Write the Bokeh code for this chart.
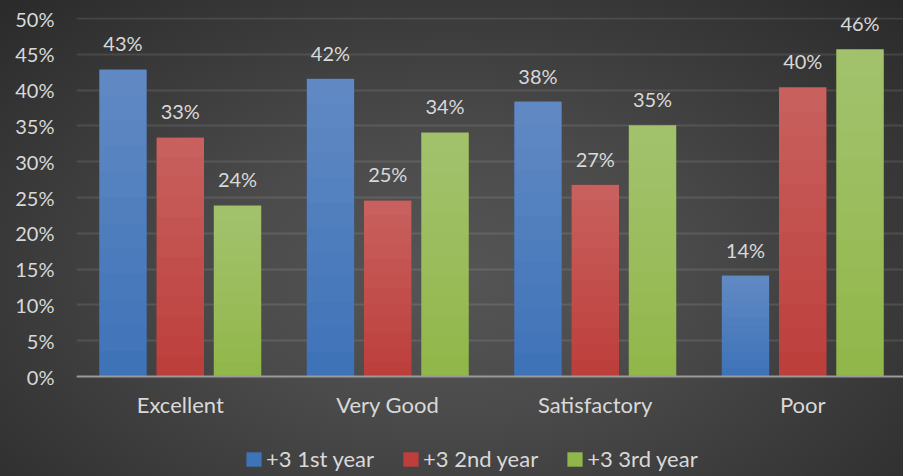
from bokeh.plotting import figure
from bokeh.models import ColumnDataSource, FixedTicker, Legend, LegendItem, Range1d
from bokeh.core.properties import value
from bokeh.embed import file_html
from bokeh.resources import INLINE

categories = ["Excellent", "Very Good", "Satisfactory", "Poor"]
series_names = ["+3 1st year", "+3 2nd year", "+3 3rd year"]
first_year = [42.9, 41.6, 38.4, 14.1]
second_year = [33.4, 24.6, 26.8, 40.4]
third_year = [23.9, 34.1, 35.1, 45.7]
y_ticks = [0, 5, 10, 15, 20, 25, 30, 35, 40, 45, 50]

series_values = [first_year, second_year, third_year]
colors = ["#3f73b8", "#bd3f3c", "#91b74b"]
offsets = [-0.276, 0.0, 0.276]
bar_w = 0.229
FONT = "Lato"
TXT = "#d9d9d9"

# frame spans from 17px to the bottom (476px); y=0 sits 100px above the bottom
px_per_unit = 359 / 50.15
p = figure(width=903, height=476, output_backend="svg", toolbar_location=None,
           x_range=Range1d(0, 827 / 207.5), y_range=Range1d(-100 / px_per_unit, 50.15),
           min_border_left=76, min_border_top=17, min_border_bottom=0, min_border_right=0)
p.background_fill_color = None
p.border_fill_color = None
p.outline_line_color = None
p.styles = {"background": "radial-gradient(ellipse farthest-corner at 50% 58%, #555555 0%, #4b4b4b 35%, #2a2a2a 100%)"}

centers = [i + 0.5 for i in range(len(categories))]

renderers = []
for vals, col, off in zip(series_values, colors, offsets):
    xs = [c + off for c in centers]
    src = ColumnDataSource(dict(x=xs, top=vals, lab=[f"{round(v)}%" for v in vals]))
    r = p.vbar(x="x", top="top", bottom=0, width=bar_w, source=src, fill_color=col, line_color=None)
    renderers.append(r)
    # gradient highlight toward top of each bar
    n = 12
    for j in range(1, n):
        bottoms = [v * j / n for v in vals]
        p.vbar(x=xs, bottom=bottoms, top=vals, width=bar_w, fill_color="white",
               fill_alpha=0.02, line_color=None)
    p.text(x="x", y="top", text="lab", source=src, text_align="center",
           text_baseline="alphabetic", y_offset=-26, text_color=TXT,
           text_font=value(FONT), text_font_size="20px")

# axes
p.yaxis.ticker = FixedTicker(ticks=y_ticks)
p.yaxis.major_label_overrides = {t: f"{t}%" for t in y_ticks}
p.yaxis.axis_line_color = None
p.yaxis.major_tick_line_color = None
p.yaxis.minor_tick_line_color = None
p.yaxis.major_label_standoff = 16
p.yaxis.major_label_text_color = TXT
p.yaxis.major_label_text_font = FONT
p.yaxis.major_label_text_font_size = "20px"

p.xaxis.fixed_location = 0
p.xaxis.ticker = FixedTicker(ticks=centers)
p.xaxis.major_label_overrides = {c: n for c, n in zip(centers, categories)}
p.xaxis.axis_line_color = "#9a9a9a"
p.xaxis.axis_line_width = 2
p.xaxis.major_tick_line_color = None
p.xaxis.minor_tick_line_color = None
p.xaxis.major_label_standoff = 8
p.xaxis.major_label_text_color = TXT
p.xaxis.major_label_text_font = FONT
p.xaxis.major_label_text_font_size = "22px"

p.xgrid.grid_line_color = None
p.ygrid.ticker = FixedTicker(ticks=y_ticks[1:])
p.ygrid.grid_line_color = "#ffffff"
p.ygrid.grid_line_alpha = 0.1
p.ygrid.grid_line_width = 2

legend = Legend(items=[LegendItem(label=n, renderers=[r]) for n, r in zip(series_names, renderers)],
                orientation="horizontal", location=(168, 4), padding=0, margin=0,
                glyph_width=19, glyph_height=18, label_standoff=3, spacing=27, label_height=20,
                label_text_color=TXT, label_text_font=FONT, label_text_font_size="22px",
                background_fill_alpha=0, border_line_color=None)
p.add_layout(legend, "center")

html = file_html(p, INLINE).replace("<body>", '<body style="background:#2b2b2b">')
open("out.html", "w").write(html)
